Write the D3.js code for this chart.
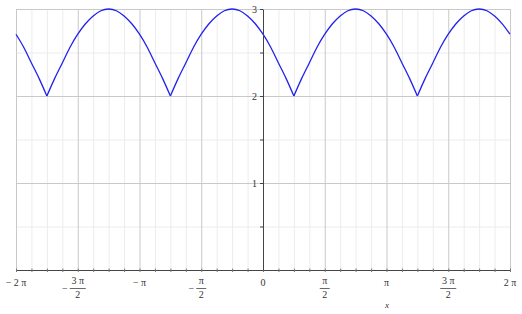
<!DOCTYPE html>
<html>
<head>
<meta charset="utf-8">
<script src="https://cdn.jsdelivr.net/npm/d3@7"></script>
<style>
  body { margin: 0; background: #fff; }
  text { font-family: "Liberation Serif", "DejaVu Serif", serif; fill: #333; }
</style>
</head>
<body>
<svg id="chart" width="522" height="314"></svg>
<script>
// sample positions, in sixteenths of pi
var xSixteenths = [-32,-31,-30,-29,-28,-27,-26,-25,-24,-23,-22,-21,-20,-19,-18,-17,
  -16,-15,-14,-13,-12,-11,-10,-9,-8,-7,-6,-5,-4,-3,-2,-1,
  0,1,2,3,4,5,6,7,8,9,10,11,12,13,14,15,
  16,17,18,19,20,21,22,23,24,25,26,27,28,29,30,31,32];
// curve values
var yValues = [2.71,2.56,2.38,2.20,2.00,2.20,2.38,2.56,2.71,2.83,2.92,2.98,3.00,2.98,2.92,2.83,
  2.71,2.56,2.38,2.20,2.00,2.20,2.38,2.56,2.71,2.83,2.92,2.98,3.00,2.98,2.92,2.83,
  2.71,2.56,2.38,2.20,2.00,2.20,2.38,2.56,2.71,2.83,2.92,2.98,3.00,2.98,2.92,2.83,
  2.71,2.56,2.38,2.20,2.00,2.20,2.38,2.56,2.71,2.83,2.92,2.98,3.00,2.98,2.92,2.83,2.71];

// ticks, in multiples of pi
var xMajorTicks = [-2,-1.5,-1,-0.5,0,0.5,1,1.5,2];
var xMinorTicks = [-1.875,-1.75,-1.625,-1.375,-1.25,-1.125,-0.875,-0.75,-0.625,-0.375,-0.25,-0.125,
  0.125,0.25,0.375,0.625,0.75,0.875,1.125,1.25,1.375,1.625,1.75,1.875];
// label pieces: sign, numerator, denominator
var xTickLabels = [["−","2 π",""],["−","3 π","2"],["−","π",""],["−","π","2"],["","0",""],
  ["","π","2"],["","π",""],["","3 π","2"],["","2 π",""]];
var yMajorTicks = [1,2,3];
var yMinorTicks = [0.5,1.5,2.5];

(function () {
  'use strict';

  var svg = d3.select('#chart');
  var PI = Math.PI;

  var x = d3.scaleLinear().domain([-2 * PI, 2 * PI]).range([16, 510]);
  var y = d3.scaleLinear().domain([0, 3]).range([270, 9]);

  /* grid */
  function gridX(vals, colour) {
    svg.append('g')
      .attr('transform', 'translate(0,270)')
      .call(d3.axisBottom(x).tickValues(vals.map(function (v) { return v * PI; }))
        .tickSize(-261).tickFormat(''))
      .call(function (g) {
        g.select('.domain').remove();
        g.selectAll('.tick line').attr('stroke', colour);
      });
  }
  function gridY(vals, colour) {
    svg.append('g')
      .attr('transform', 'translate(16,0)')
      .call(d3.axisLeft(y).tickValues(vals).tickSize(-494).tickFormat(''))
      .call(function (g) {
        g.select('.domain').remove();
        g.selectAll('.tick line').attr('stroke', colour);
      });
  }
  gridX(xMinorTicks, '#ececec');
  gridY(yMinorTicks, '#ececec');
  gridX(xMajorTicks, '#c9c9c9');
  gridY(yMajorTicks, '#c9c9c9');

  /* curve: split into arches at the cusps */
  var pts = xSixteenths.map(function (k, i) { return [k * PI / 16, yValues[i]]; });
  var arches = [[pts[0]]];
  for (var i = 1; i < pts.length; i++) {
    arches[arches.length - 1].push(pts[i]);
    if (i < pts.length - 1 && pts[i][1] < pts[i - 1][1] && pts[i][1] < pts[i + 1][1]) {
      arches.push([pts[i]]);
    }
  }
  var line = d3.line()
    .x(function (d) { return x(d[0]); })
    .y(function (d) { return y(d[1]); })
    .curve(d3.curveNatural);
  svg.append('g').selectAll('path')
    .data(arches)
    .enter()
    .append('path')
    .attr('d', line)
    .attr('fill', 'none')
    .attr('stroke', '#2222ee')
    .attr('stroke-width', 1.3);

  /* x axis */
  var xAxis = svg.append('g').attr('transform', 'translate(0,270)');
  xAxis.call(d3.axisBottom(x)
      .tickValues(xMajorTicks.concat(xMinorTicks).map(function (v) { return v * PI; }))
      .tickSize(2).tickSizeOuter(0).tickFormat(''))
    .call(function (g) {
      g.select('.domain').attr('stroke', '#444');
      g.selectAll('.tick line').attr('stroke', '#777').attr('y1', -1.5);
    });

  var labs = svg.append('g').attr('font-size', 10);
  xMajorTicks.forEach(function (v, i) {
    var cx = x(v * PI), lab = xTickLabels[i];
    if (lab[2] === '') {
      labs.append('text').attr('x', cx).attr('y', 286).attr('text-anchor', 'middle')
        .text(lab[0] + (lab[0] ? ' ' : '') + lab[1]);
    } else {
      labs.append('text').attr('x', cx).attr('y', 284).attr('text-anchor', 'middle').text(lab[1]);
      var w = lab[1].length > 1 ? 8 : 5;
      labs.append('line').attr('x1', cx - w).attr('x2', cx + w)
        .attr('y1', 288.5).attr('y2', 288.5).attr('stroke', '#444').attr('stroke-width', 0.8);
      labs.append('text').attr('x', cx).attr('y', 298).attr('text-anchor', 'middle').text(lab[2]);
      if (lab[0]) {
        labs.append('text').attr('x', cx - w - 2).attr('y', 292).attr('text-anchor', 'end').text(lab[0]);
      }
    }
  });
  labs.append('text').attr('x', 387).attr('y', 308).attr('text-anchor', 'middle')
    .attr('font-style', 'italic').attr('font-size', 9).text('x');

  /* y axis */
  svg.append('g')
    .attr('transform', 'translate(263,0)')
    .call(d3.axisLeft(y).tickValues(yMajorTicks.concat(yMinorTicks))
      .tickSize(3).tickSizeOuter(0).tickFormat(''))
    .call(function (g) {
      g.select('.domain').attr('stroke', '#444');
      g.selectAll('.tick line').attr('stroke', '#444');
    });
  yMajorTicks.forEach(function (v) {
    labs.append('text').attr('x', 257).attr('y', y(v) + 3.5).attr('text-anchor', 'end').text(v);
  });
}());
</script>
</body>
</html>
